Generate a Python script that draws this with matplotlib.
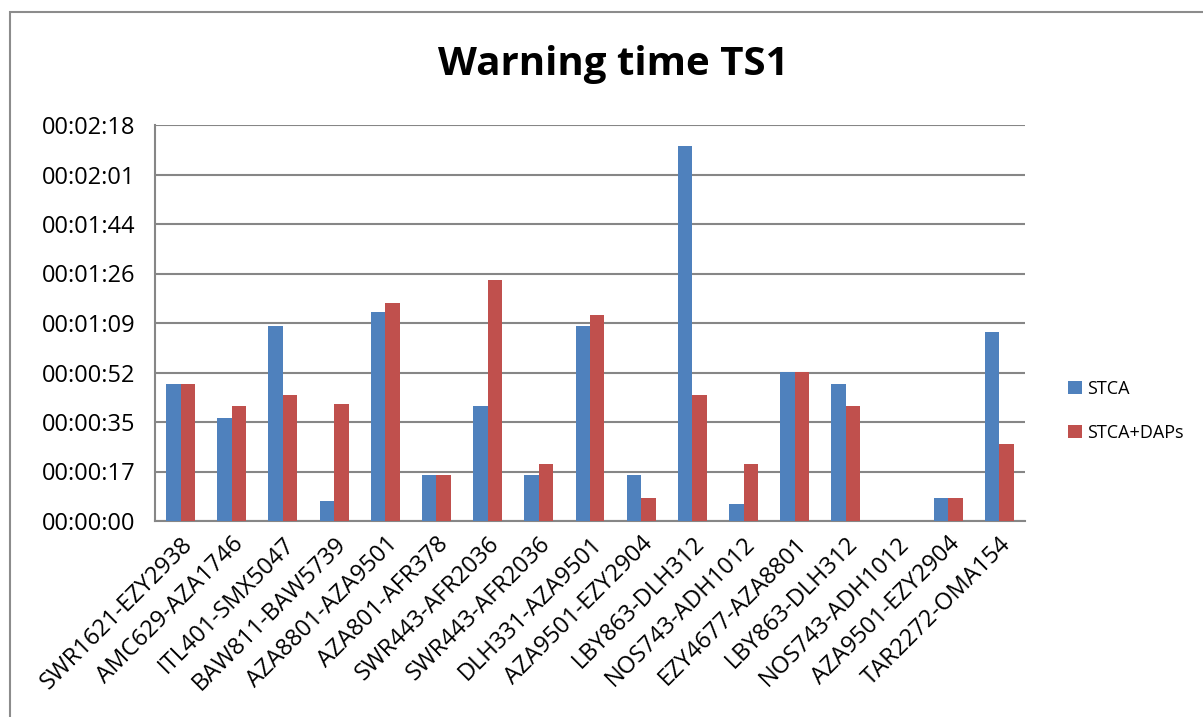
import matplotlib
matplotlib.use("Agg")
import matplotlib.pyplot as plt
import numpy as np
from matplotlib.ticker import FuncFormatter
from matplotlib.patches import Rectangle

# data (warning time in seconds)
pairs = ["SWR1621-EZY2938", "AMC629-AZA1746", "ITL401-SMX5047", "BAW811-BAW5739",
         "AZA8801-AZA9501", "AZA801-AFR378", "SWR443-AFR2036", "SWR443-AFR2036",
         "DLH331-AZA9501", "AZA9501-EZY2904", "LBY863-DLH312", "NOS743-ADH1012",
         "EZY4677-AZA8801", "LBY863-DLH312", "NOS743-ADH1012", "AZA9501-EZY2904",
         "TAR2272-OMA154"]
stca = [48, 36, 68, 7, 73, 16, 40, 16, 68, 16, 131, 6, 52, 48, 0, 8, 66]
stca_daps = [48, 40, 44, 41, 76, 16, 84, 20, 72, 8, 44, 20, 52, 40, 0, 8, 27]

# excel-style time axis: step of 0.0002 day
step = 0.0002 * 86400
yticks = [i * step for i in range(9)]

plt.rcParams['font.family'] = ['Open Sans', 'DejaVu Sans']

fig = plt.figure(figsize=(12.03, 7.17), dpi=100)
ax = fig.add_axes([155 / 1203, 1 - 521 / 717, 870 / 1203, 396 / 717])

# chart frame
fig.patches.append(Rectangle((10 / 1203, -0.1), 1.2, 1 - 12 / 717 + 0.1,
                             transform=fig.transFigure, fill=False,
                             edgecolor="#8c8c8c", linewidth=1.5))

x = np.arange(len(pairs))
w = 0.283
ax.bar(x - w / 2, stca, w, color="#4F81BD", label="STCA", zorder=3)
ax.bar(x + w / 2, stca_daps, w, color="#C0504D", label="STCA+DAPs", zorder=3)

ax.set_xlim(-0.5, len(pairs) - 0.5)
ax.set_ylim(0, yticks[-1])
ax.set_yticks(yticks)


def hms(v, pos):
    s = int(round(v))
    return f"{s // 3600:02d}:{(s % 3600) // 60:02d}:{s % 60:02d}"


ax.yaxis.set_major_formatter(FuncFormatter(hms))
ax.set_xticks(x)
ax.set_xticklabels(pairs, rotation=45, ha="right", va="top", rotation_mode="anchor")
ax.tick_params(axis="both", length=0, labelsize=17)
ax.tick_params(axis="y", pad=14)
ax.tick_params(axis="x", pad=8)

ax.grid(axis="y", color="#868686", linewidth=1.5, zorder=0)
for side in ["top", "right"]:
    ax.spines[side].set_visible(False)
for side in ["left", "bottom"]:
    ax.spines[side].set_color("#868686")
    ax.spines[side].set_linewidth(1.5)

fig.text(613 / 1203, 1 - 65 / 717, "Warning time TS1", ha="center", va="center",
         fontsize=29, fontweight="bold")

fig.legend(loc="center left", bbox_to_anchor=(1052 / 1203, 1 - 411 / 717),
           frameon=False, fontsize=13, handlelength=0.75, handleheight=0.75,
           handletextpad=0.3, labelspacing=1.45)

fig.savefig("out.png", dpi=100)
